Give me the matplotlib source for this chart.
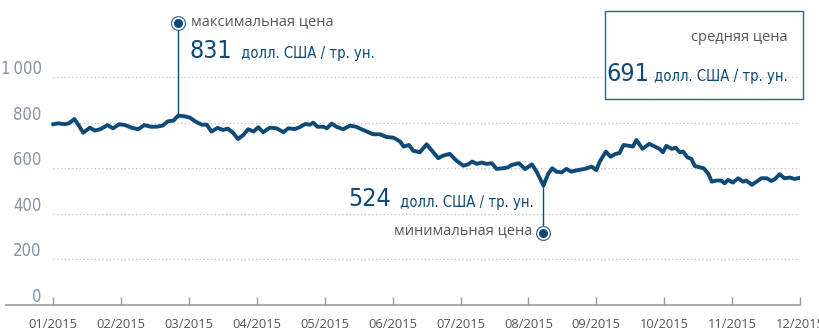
import numpy as np
import matplotlib
matplotlib.use("Agg")
import matplotlib.pyplot as plt
from matplotlib import transforms
from matplotlib.patches import Rectangle

# price series, x in months from 01/2015
month = [0.00, 0.07, 0.17, 0.23, 0.31, 0.37, 0.44, 0.54, 0.61, 0.69, 0.80, 0.88,
	0.97, 1.06, 1.16, 1.25, 1.34, 1.44, 1.52, 1.61, 1.69, 1.77, 1.84, 1.93,
	2.01, 2.11, 2.19, 2.26, 2.33, 2.42, 2.50, 2.57, 2.65, 2.72, 2.80, 2.87,
	2.95, 3.02, 3.09, 3.19, 3.29, 3.39, 3.46, 3.56, 3.63, 3.71, 3.78, 3.83,
	3.89, 3.98, 4.03, 4.10, 4.17, 4.27, 4.37, 4.46, 4.54, 4.64, 4.71, 4.81,
	4.91, 5.01, 5.11, 5.16, 5.24, 5.30, 5.40, 5.50, 5.57, 5.67, 5.74, 5.84,
	5.94, 6.04, 6.11, 6.17, 6.24, 6.31, 6.38, 6.46, 6.53, 6.63, 6.70, 6.75,
	6.86, 6.95, 7.05, 7.12, 7.22, 7.29, 7.35, 7.41, 7.49, 7.56, 7.63, 7.73,
	7.83, 7.93, 8.00, 8.05, 8.14, 8.21, 8.28, 8.34, 8.40, 8.49, 8.54, 8.59,
	8.68, 8.78, 8.86, 8.93, 8.98, 9.03, 9.11, 9.17, 9.23, 9.28, 9.34, 9.40,
	9.45, 9.52, 9.58, 9.65, 9.70, 9.77, 9.84, 9.89, 9.94, 10.01, 10.09, 10.16,
	10.21, 10.29, 10.36, 10.43, 10.51, 10.58, 10.63, 10.70, 10.77, 10.85, 10.92, 11.00]
price = [793, 797, 793, 797, 816, 790, 756, 778, 765, 771, 789, 775,
	793, 789, 777, 771, 789, 782, 782, 787, 806, 809, 831, 828,
	822, 802, 791, 791, 761, 777, 768, 774, 755, 728, 746, 771,
	761, 780, 758, 778, 775, 758, 775, 772, 780, 794, 791, 800,
	782, 782, 775, 796, 782, 771, 787, 782, 771, 758, 749, 749,
	737, 734, 717, 695, 702, 677, 670, 705, 680, 644, 655, 663,
	633, 611, 617, 629, 619, 625, 619, 622, 597, 600, 604, 614,
	622, 596, 617, 585, 524, 575, 600, 585, 582, 597, 585, 592,
	597, 607, 592, 629, 673, 650, 663, 666, 702, 698, 695, 724,
	685, 707, 695, 685, 670, 698, 685, 690, 670, 673, 648, 641,
	610, 604, 600, 575, 541, 546, 546, 534, 549, 537, 556, 541,
	546, 527, 541, 556, 556, 544, 552, 574, 556, 559, 553, 558]

month_labels = ["01/2015", "02/2015", "03/2015", "04/2015", "05/2015", "06/2015",
	"07/2015", "08/2015", "09/2015", "10/2015", "11/2015", "12/2015"]
y_ticks = [0, 200, 400, 600, 800, 1000]
y_labels = ["0", "200", "400", "600", "800", "1\u2009000"]
avg_price = 691
unit = "долл. США / тр. ун."

BLUE = "#0e4a75"
GREY = "#555555"
AXIS = "#9a9a9a"
NARROW = dict(family=["DejaVu Sans"], stretch="condensed")
PLAIN = dict(family=["Open Sans", "DejaVu Sans"])
BIG = 18
UNIT = 10.6

W, H = 819, 331
fig = plt.figure(figsize=(W / 100, H / 100), dpi=100)
ax = fig.add_axes([6 / W, 26 / H, 794 / W, 305 / H])
ax.set_xlim(-0.697, 11.0)
ax.set_ylim(0, 1338)
ax.patch.set_alpha(0)

for s in ["top", "right", "left"]:
	ax.spines[s].set_visible(False)
ax.spines["bottom"].set_color(AXIS)
ax.spines["bottom"].set_linewidth(1.2)

ax.set_yticks([])
ax.set_xticks(range(len(month_labels)))
ax.set_xticklabels(month_labels, fontsize=9.3, color=GREY, **PLAIN)
ax.tick_params(axis="x", direction="in", length=6, width=1, color=AXIS, pad=9)

# dotted grid and value labels
for v, lab in zip(y_ticks, y_labels):
	if v:
		ax.plot([0, 11], [v, v], color="#c4c4c4", lw=0.9,
				linestyle=(0, (1, 2)), zorder=1)
	ax.annotate(lab, (-0.17, v), xytext=(0, 3), textcoords="offset pixels",
			ha="right", va="baseline", fontsize=12, color="#8792a6", **NARROW)

ax.plot(month, price, color=BLUE, lw=2.8, solid_joinstyle="round", zorder=3)

xy_mix = transforms.blended_transform_factory(ax.transData, ax.transAxes)
to_fig = fig.transFigure.inverted()

def marker(x, yf):
	ax.plot([x], [yf], transform=xy_mix, marker="o", ms=10, mfc="white",
			mec="#3f6f96", mew=0.9, clip_on=False, zorder=4)
	ax.plot([x], [yf], transform=xy_mix, marker="o", ms=5.5, mfc=BLUE,
			mec=BLUE, clip_on=False, zorder=5)

def lead(x, y, yf):
	y_pix = ax.transAxes.transform((0, yf))[1]
	ya = ax.transData.inverted().transform((0, y_pix))[1]
	ax.plot([x, x], [y, ya], color=BLUE, lw=1, zorder=2, clip_on=False)

def right_of(t, gap):
	bb = t.get_window_extent(fig.canvas.get_renderer())
	return bb.x1 + gap

def left_of(t, gap):
	bb = t.get_window_extent(fig.canvas.get_renderer())
	return bb.x0 - gap

def px(x, y):
	return to_fig.transform((x, H - y))

# maximum
i_max = int(np.argmax(price))
x_max, p_max = month[i_max], price[i_max]
lead(x_max, p_max, 0.923)
marker(x_max, 0.923)
ax.annotate("максимальная цена", (x_max, 0.923), xycoords=xy_mix,
		xytext=(13, -2), textcoords="offset pixels", ha="left", va="baseline",
		fontsize=10.5, color=GREY, **PLAIN)
t = ax.annotate(str(p_max), (x_max, 0.923), xycoords=xy_mix,
		xytext=(11, -35), textcoords="offset pixels", ha="left", va="baseline",
		fontsize=BIG, color=BLUE, **NARROW)
fig.text(*px(right_of(t, 9), 58), unit, ha="left", va="baseline",
		fontsize=UNIT, color=BLUE, **NARROW)

# minimum
i_min = int(np.argmin(price))
x_min, p_min = month[i_min], price[i_min]
lead(x_min, p_min, 0.235)
marker(x_min, 0.235)
ax.annotate("минимальная цена", (x_min, 0.235), xycoords=xy_mix,
		xytext=(-11, -1), textcoords="offset pixels", ha="right", va="baseline",
		fontsize=10.5, color=GREY, **PLAIN)
t = ax.annotate(unit, (x_min, 0.235), xycoords=xy_mix,
		xytext=(-10, 26), textcoords="offset pixels", ha="right", va="baseline",
		fontsize=UNIT, color=BLUE, **NARROW)
fig.text(*px(left_of(t, 8), 206.5), str(p_min), ha="right", va="baseline",
		fontsize=BIG, color=BLUE, **NARROW)

# average box
fig.patches.append(Rectangle((605 / W, 1 - 98.7 / H), 198 / W, 88 / H,
		transform=fig.transFigure, fill=False, ec="#2c6190", lw=1))
fig.text(*px(788, 41), "средняя цена", ha="right", va="baseline",
		fontsize=10.5, color=GREY, **PLAIN)
t = fig.text(*px(788, 81), unit, ha="right", va="baseline",
		fontsize=UNIT, color=BLUE, **NARROW)
fig.text(*px(left_of(t, 5), 81), str(avg_price), ha="right", va="baseline",
		fontsize=BIG, color=BLUE, **NARROW)

fig.savefig("out.png", dpi=100)
